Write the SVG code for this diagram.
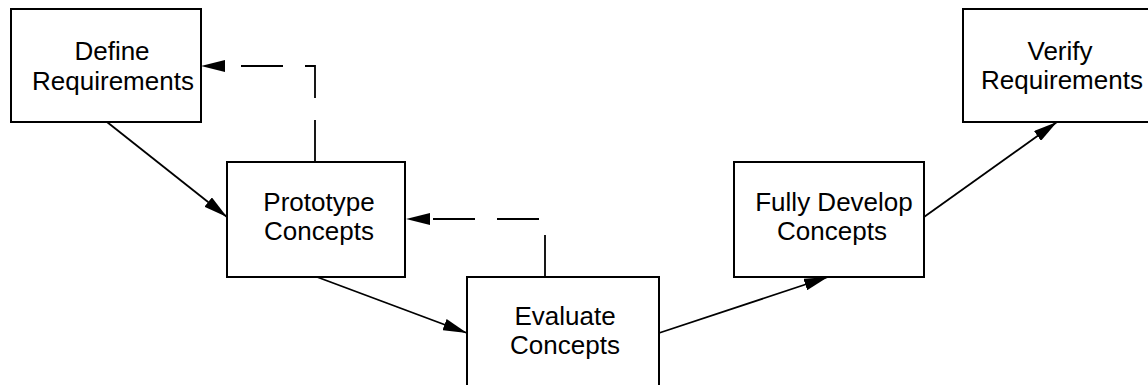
<svg xmlns="http://www.w3.org/2000/svg" width="1148" height="385" viewBox="0 0 1148 385">
<style>
.box{fill:#fff;stroke:#000;stroke-width:2}
.lbl{font-family:"Liberation Sans",Arial,sans-serif;font-size:26px;fill:#000;text-anchor:middle}
.solid{fill:none;stroke:#000;stroke-width:1.8;marker-end:url(#ah)}
.dash{fill:none;stroke:#000;stroke-width:1.8;stroke-dasharray:42 22;marker-end:url(#ah0)}
</style>
<defs>
<marker id="ah" markerUnits="userSpaceOnUse" markerWidth="24" markerHeight="12" refX="24" refY="6" orient="auto" viewBox="0 0 24 12">
<path d="M0,0 L24,6 L0,12 z" fill="#000"/>
</marker>
<marker id="ah0" markerUnits="userSpaceOnUse" markerWidth="24" markerHeight="12" refX="0" refY="6" orient="auto" viewBox="0 0 24 12">
<path d="M0,0 L24,6 L0,12 z" fill="#000"/>
</marker>
</defs>
<rect width="1148" height="385" fill="#fff"/>
<g id="connectors">
<path class="solid" d="M107,122 L227,217"/>
<path class="solid" d="M317,277 L467,333"/>
<path class="solid" d="M659,333 L828,277"/>
<path class="solid" d="M924,217 L1057,122"/>
<path class="dash" d="M315,162 L315,66 L225,66"/>
<path class="dash" d="M545,277 L545,219 L430,219"/>
</g>
<g id="define">
<rect class="box" x="11" y="9" width="190" height="113"/>
<text class="lbl" x="112" y="60">Define</text>
<text class="lbl" x="113" y="90">Requirements</text>
</g>
<g id="prototype">
<rect class="box" x="227" y="162" width="178" height="115"/>
<text class="lbl" x="319" y="211">Prototype</text>
<text class="lbl" x="319" y="240">Concepts</text>
</g>
<g id="evaluate">
<rect class="box" x="467" y="277" width="192" height="130"/>
<text class="lbl" x="565" y="325">Evaluate</text>
<text class="lbl" x="565" y="354">Concepts</text>
</g>
<g id="fully">
<rect class="box" x="734" y="162" width="190" height="115"/>
<text class="lbl" x="834" y="211">Fully Develop</text>
<text class="lbl" x="832" y="240">Concepts</text>
</g>
<g id="verify">
<rect class="box" x="963" y="9" width="190" height="113"/>
<text class="lbl" x="1060" y="60">Verify</text>
<text class="lbl" x="1062" y="89">Requirements</text>
</g>
</svg>
